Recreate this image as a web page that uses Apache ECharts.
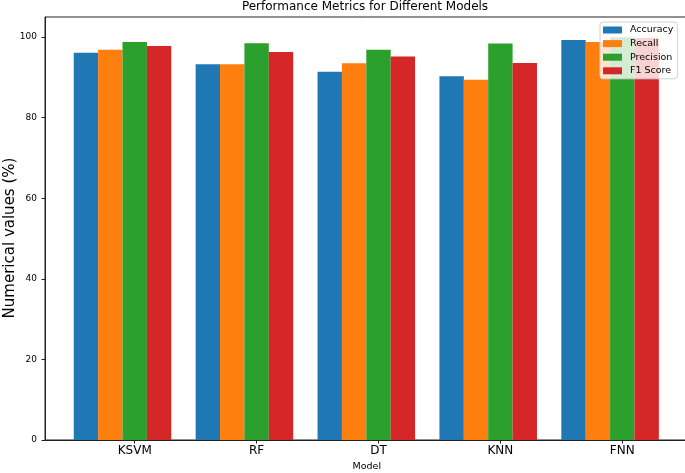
<!DOCTYPE html>
<html>
<head>
<meta charset="utf-8">
<script src="https://cdn.jsdelivr.net/npm/echarts@6/dist/echarts.min.js"></script>
<style>html,body{margin:0;padding:0;background:#fff;}#c{width:685px;height:473px;}</style>
</head>
<body>
<div id="c"></div>
<script>
const models = ['KSVM', 'RF', 'DT', 'KNN', 'FNN'];
const metrics = ['Accuracy', 'Recall', 'Precision', 'F1 Score'];
const accuracy = [96.1, 93.3, 91.4, 90.3, 99.3];
const recall = [96.9, 93.3, 93.5, 89.4, 98.8];
const precision = [98.8, 98.5, 96.9, 98.4, 100.0];
const f1Score = [97.8, 96.3, 95.2, 93.6, 99.8];
const yTicks = [0, 20, 40, 60, 80, 100];

const seriesValues = [accuracy, recall, precision, f1Score];
const colors = ['#1f77b4', '#ff7f0e', '#2ca02c', '#d62728'];
const barStep = 0.2;
const tickPos = models.map((m, i) => i + 0.4);

const chart = echarts.init(document.getElementById('c'), null, {renderer: 'canvas'});
const font = 'DejaVu Sans';

chart.setOption({
  animation: false,
  backgroundColor: '#fff',
  title: {
    text: 'Performance Metrics for Different Models',
    left: 365, top: 1, textAlign: 'center', padding: 0,
    textStyle: {fontFamily: font, fontSize: 12, fontWeight: 'normal', color: '#000'}
  },
  legend: {
    data: metrics,
    orient: 'vertical',
    left: 600, top: 22,
    itemWidth: 19, itemHeight: 7, itemGap: 3.6,
    icon: 'rect',
    padding: [3, 4, 3, 3],
    backgroundColor: 'rgba(255,255,255,0.8)',
    borderColor: '#d0d0d0', borderWidth: 1, borderRadius: 3,
    textStyle: {fontFamily: font, fontSize: 9.5, color: '#000', padding: [0, 0, 0, 3]}
  },
  grid: {left: 45, top: 17, width: 643.6, bottom: 33, show: true, borderColor: '#222', borderWidth: 1, containLabel: false, outerBoundsMode: 'none'},
  xAxis: {
    type: 'value', min: -0.336, max: 4.944,
    splitLine: {show: false},
    axisLine: {onZero: false, lineStyle: {color: '#222', width: 1}},
    axisTick: {show: true, inside: false, length: 3.5, customValues: tickPos, lineStyle: {color: '#222'}},
    axisLabel: {
      customValues: tickPos, margin: 5,
      fontFamily: font, fontSize: 12, color: '#000',
      formatter: v => models[Math.round(v - 0.4)]
    },
    name: 'Model', nameLocation: 'middle', nameGap: 21,
    nameTextStyle: {fontFamily: font, fontSize: 9.5, color: '#000'}
  },
  yAxis: {
    type: 'value', min: 0, max: 105,
    splitLine: {show: false},
    axisLine: {show: true, onZero: false, lineStyle: {color: '#222', width: 1}},
    axisTick: {show: true, inside: false, length: 3.5, customValues: yTicks, lineStyle: {color: '#222'}},
    axisLabel: {customValues: yTicks, margin: 8, fontFamily: font, fontSize: 9, color: '#000'},
    name: 'Numerical values (%)', nameLocation: 'middle', nameGap: 27, nameMoveOverlap: false,
    nameTextStyle: {fontFamily: font, fontSize: 15, color: '#000', padding: [0, 19, 0, 0]}
  },
  series: metrics.map((name, k) => ({
    name: name,
    type: 'bar',
    barWidth: 24.4,
    barGap: '-100%',
    itemStyle: {color: colors[k]},
    data: models.map((m, i) => [i + k * barStep, seriesValues[k][i]])
  }))
});
</script>
</body>
</html>
